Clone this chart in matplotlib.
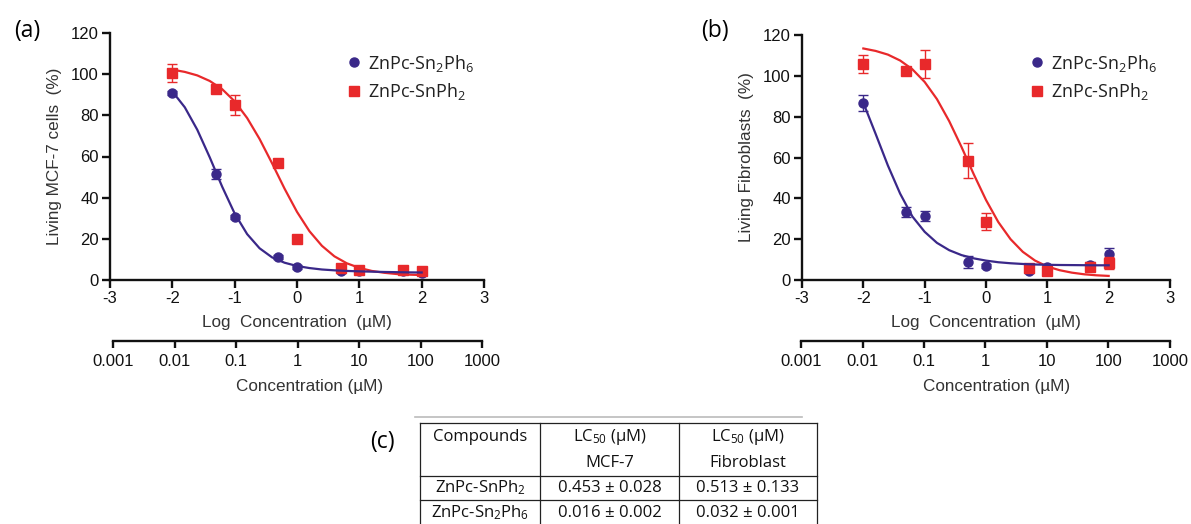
import matplotlib
matplotlib.use("Agg")
import matplotlib.pyplot as plt
from matplotlib.lines import Line2D

plt.rcParams['font.family'] = ['Liberation Sans', 'DejaVu Sans']
plt.rcParams['axes.unicode_minus'] = False
plt.rcParams['mathtext.fontset'] = 'custom'
plt.rcParams['mathtext.rm'] = 'Open Sans'
plt.rcParams['mathtext.it'] = 'Open Sans'
plt.rcParams['mathtext.default'] = 'regular'

TXT_FONT = ['Open Sans', 'DejaVu Sans']

# measured doses (log uM)
log_conc = [-2, -1.3, -1, -0.3, 0, 0.7, 1, 1.7, 2]

# panel (a) MCF-7
mcf_sn2ph6 = [91, 51.6, 30.8, 11, 6.5, 4.3, 4.5, 4.2, 3.6]
mcf_sn2ph6_err = [1, 2.5, 1, 1, 1, 1, 1, 1, 1]
mcf_snph2 = [100.6, 93, 85, 57, 20, 6, 5, 5, 4.5]
mcf_snph2_err = [4.2, 1.5, 4.8, 1.5, 1, 1, 1, 1, 1]

# panel (b) fibroblasts
fib_sn2ph6 = [86.8, 33.5, 31.5, 9, 6.9, 4.6, 6.5, 7.5, 12.7]
fib_sn2ph6_err = [4, 2.5, 2.5, 3, 1, 1, 1, 1.5, 3]
fib_snph2 = [105.8, 102.3, 105.8, 58.4, 28.6, 5.7, 4.5, 6.5, 8.2]
fib_snph2_err = [4.5, 1.5, 7, 8.5, 4, 2, 2, 1.5, 3]

# fitted curves
curve_x = [-2, -1.8, -1.6, -1.4, -1.2, -1.0, -0.8, -0.6, -0.4, -0.2, 0,
           0.2, 0.4, 0.6, 0.8, 1.0, 1.2, 1.4, 1.6, 1.8, 2.0]
mcf_sn2ph6_fit = [91.6, 83.9, 73.0, 59.6, 45.3, 32.3, 22.3, 15.4, 11.0, 8.4, 6.8,
                  5.8, 5.1, 4.7, 4.4, 4.2, 4.05, 3.9, 3.8, 3.7, 3.65]
mcf_snph2_fit = [102.2, 101.1, 99.4, 96.7, 92.7, 86.8, 78.7, 68.5, 56.7, 44.4, 33.1,
                 23.7, 16.6, 11.5, 8.1, 5.9, 4.4, 3.5, 2.9, 2.6, 2.4]
fib_sn2ph6_fit = [86.8, 71.6, 56.1, 42.3, 31.1, 23.6, 18.2, 14.6, 12.2, 10.6, 9.5,
                  8.7, 8.2, 7.85, 7.6, 7.45, 7.35, 7.3, 7.25, 7.2, 7.2]
fib_snph2_fit = [113.4, 112.2, 110.4, 107.5, 103.2, 97.0, 88.6, 77.8, 65.2, 51.8, 39.2,
                 28.4, 20.0, 13.8, 9.5, 6.6, 4.8, 3.6, 2.8, 2.3, 2.0]

log_ticks = [-3, -2, -1, 0, 1, 2, 3]
conc_ticks = [0.001, 0.01, 0.1, 1, 10, 100, 1000]
conc_labels = ['0.001', '0.01', '0.1', '1', '10', '100', '1000']

name_a = 'ZnPc-Sn$_2$Ph$_6$'
name_b = 'ZnPc-SnPh$_2$'

table_header = ['Compounds', 'LC$_{50}$ (\u00b5M)\nMCF-7', 'LC$_{50}$ (\u00b5M)\nFibroblast']
table_rows = [['ZnPc-SnPh$_2$', '0.453 \u00b1 0.028', '0.513 \u00b1 0.133'],
              ['ZnPc-Sn$_2$Ph$_6$', '0.016 \u00b1 0.002', '0.032 \u00b1 0.001']]

BLUE = '#3a2889'
RED = '#e8292b'
W, H = 1191, 524

fig = plt.figure(figsize=(W / 100, H / 100), dpi=100)


def fx(px):
    return px / W


def fy(py):
    return 1 - py / H


def panel(left, right, top, bottom, blue, blue_err, red, red_err, blue_fit, red_fit,
          ylabel, leg_x, sec_left, sec_right, sec_label_x):
    ax = fig.add_axes([fx(left), fy(bottom), fx(right - left), (bottom - top) / H])
    ax.plot(curve_x, red_fit, color=RED, lw=1.6, zorder=2)
    ax.errorbar(log_conc, blue, yerr=blue_err, fmt='o', color=BLUE, ms=6.5,
                capsize=3.5, elinewidth=1, capthick=1, zorder=3)
    ax.errorbar(log_conc, red, yerr=red_err, fmt='s', color=RED, ms=6.5,
                capsize=3.5, elinewidth=1, capthick=1, zorder=4)
    ax.plot(curve_x, blue_fit, color=BLUE, lw=1.6, zorder=5)
    ax.set_xlim(-3, 3)
    ax.set_ylim(0, 120)
    ax.set_xticks(log_ticks)
    ax.set_yticks([0, 20, 40, 60, 80, 100, 120])
    ax.spines['top'].set_visible(False)
    ax.spines['right'].set_visible(False)
    for s in ['left', 'bottom']:
        ax.spines[s].set_linewidth(1.7)
        ax.spines[s].set_color('#111111')
    ax.tick_params(length=6, width=1.7, labelsize=12, colors='#111111', pad=2)
    ax.set_ylabel(ylabel, fontsize=12.3, color='#333333')
    ax.yaxis.set_label_coords(-56 / (right - left), 0.5)
    ax.set_xlabel('Log  Concentration  (\u00b5M)', fontsize=12.3, color='#333333')
    ax.xaxis.set_label_coords(0.5, -(323 - bottom) / (bottom - top))
    ax.xaxis.label.set_va('center')
    ax.yaxis.label.set_va('center')
    ax.patch.set_visible(False)

    # legend
    leg_items = [(name_a, 'o', BLUE, 62), (name_b, 's', RED, 91)]
    for txt, mk, col, ypx in leg_items:
        fig.add_artist(Line2D([fx(leg_x)], [fy(ypx)], marker=mk, color=col, ms=6.5, ls='none'))
        fig.text(fx(leg_x + 14), fy(ypx + 1), txt, fontsize=13, family=TXT_FONT,
                 va='center', ha='left', color='#222222')

    # concentration axis
    sec = fig.add_axes([fx(sec_left), fy(341), fx(sec_right - sec_left), 0.0001])
    sec.set_xscale('log')
    sec.set_xlim(conc_ticks[0], conc_ticks[-1])
    sec.set_xticks(conc_ticks)
    sec.set_xticklabels(conc_labels)
    sec.minorticks_off()
    sec.set_yticks([])
    for s in ['top', 'left', 'right']:
        sec.spines[s].set_visible(False)
    sec.spines['bottom'].set_linewidth(1.7)
    sec.spines['bottom'].set_color('#111111')
    sec.tick_params(length=5, width=1.7, labelsize=12, colors='#111111', pad=4)
    sec.patch.set_visible(False)
    fig.text(fx(sec_label_x), fy(387), 'Concentration (\u00b5M)',
             fontsize=12.3, ha='center', va='center', color='#333333')
    return ax


panel(110, 484, 33, 280, mcf_sn2ph6, mcf_sn2ph6_err, mcf_snph2, mcf_snph2_err,
      mcf_sn2ph6_fit, mcf_snph2_fit, 'Living MCF-7 cells  (%)', 354, 113, 482, 310)
panel(802, 1170, 35, 280, fib_sn2ph6, fib_sn2ph6_err, fib_snph2, fib_snph2_err,
      fib_sn2ph6_fit, fib_snph2_fit, 'Living Fibroblasts  (%)', 1037, 801, 1170, 997)

# panel letters
for lab, xp, yp in [('(a)', 27, 31), ('(b)', 715, 31), ('(c)', 382, 442)]:
    fig.text(fx(xp), fy(yp), lab, fontsize=16.5, family=TXT_FONT, ha='center', va='center')

# table (c)
fig.add_artist(Line2D([fx(415), fx(802)], [fy(417), fy(417)], color='#bbbbbb', lw=1.2))
col_x = [420, 540, 679, 817]
row_y = [423, 476, 500, 526]
for xp in col_x:
    fig.add_artist(Line2D([fx(xp), fx(xp)], [fy(row_y[0]), fy(row_y[-1])], color='#222222', lw=0.9))
for yp in row_y[:-1]:
    fig.add_artist(Line2D([fx(col_x[0]), fx(col_x[-1])], [fy(yp), fy(yp)], color='#222222', lw=0.9))

centers = [(col_x[i] + col_x[i + 1]) / 2 for i in range(3)]
for i, txt in enumerate(table_header):
    for j, ln in enumerate(txt.split('\n')):
        fig.text(fx(centers[i]), fy(437 + 26 * j), ln, fontsize=12, family=TXT_FONT,
                 ha='center', va='center', color='#111111')
for r, row in enumerate(table_rows):
    for i, txt in enumerate(row):
        fig.text(fx(centers[i]), fy(488 + 25 * r), txt, fontsize=12, family=TXT_FONT,
                 ha='center', va='center', color='#111111')

fig.savefig('out.png', dpi=100)
